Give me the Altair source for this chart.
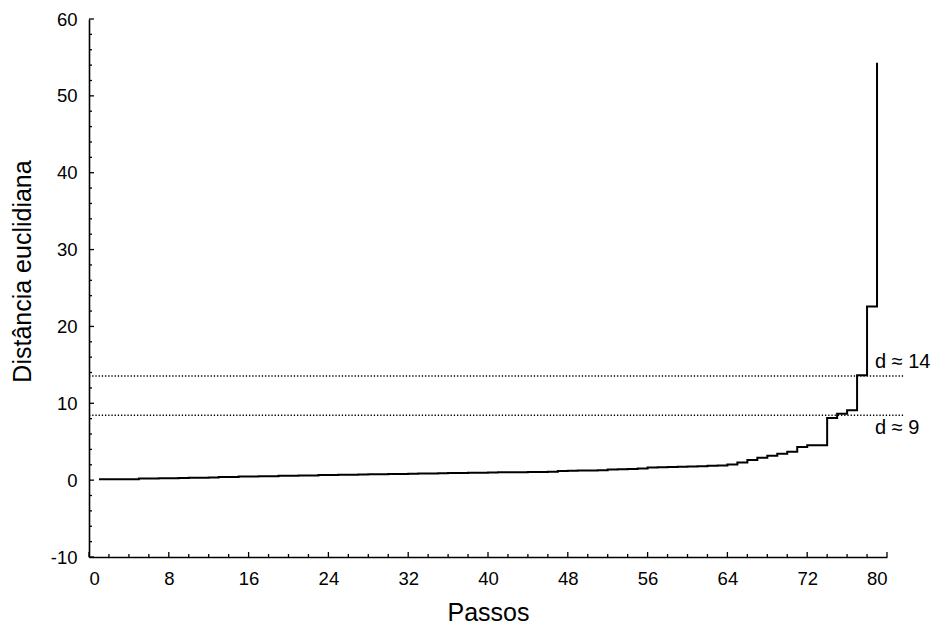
import altair as alt
import pandas as pd

# Fusion steps (Passos) and Euclidean linkage distance at each step
steps = list(range(1, 80))
distances = [
    0.10, 0.10, 0.11, 0.12, 0.20, 0.22, 0.24, 0.26, 0.28, 0.30,
    0.32, 0.34, 0.40, 0.42, 0.46, 0.48, 0.50, 0.52, 0.56, 0.58,
    0.60, 0.62, 0.66, 0.68, 0.69, 0.71, 0.72, 0.76, 0.78, 0.79,
    0.80, 0.84, 0.86, 0.87, 0.91, 0.92, 0.93, 0.95, 0.96, 0.98,
    1.02, 1.03, 1.04, 1.06, 1.07, 1.08, 1.20, 1.22, 1.24, 1.26,
    1.28, 1.39, 1.42, 1.45, 1.52, 1.65, 1.68, 1.71, 1.74, 1.77,
    1.80, 1.87, 1.92, 2.05, 2.30, 2.62, 2.92, 3.18, 3.42, 3.70,
    4.30, 4.55, 4.55, 8.10, 8.65, 9.10, 13.65, 22.60, 54.30,
]

# Cut-off levels (dotted lines) and their labels
cut_levels = [13.55, 8.45]
cut_labels = ["d \u2248 14", "d \u2248 9"]

# Axis ticks
x_major = list(range(0, 81, 8))
x_minor = [v for v in range(0, 81, 2) if v % 8 != 0]
y_major = list(range(-10, 61, 10))
y_minor = [v for v in range(-10, 61, 2) if v % 10 != 0]

W, H = 798, 538
FONT = "Liberation Sans"

curve_df = pd.DataFrame({"Passos": steps, "Dist": distances})
cut_df = pd.DataFrame({"level": cut_levels, "label": cut_labels})

xscale = alt.Scale(domain=[0, 80], nice=False, zero=False)
yscale = alt.Scale(domain=[-10, 60], nice=False, zero=False)

curve = alt.Chart(curve_df).mark_line(
    interpolate="step-after", color="black", strokeWidth=2
).encode(
    x=alt.X("Passos:Q", scale=xscale,
            axis=alt.Axis(values=x_major, title="Passos", labelExpr="'' + datum.value")),
    y=alt.Y("Dist:Q", scale=yscale,
            axis=alt.Axis(values=y_major, title="Distância euclidiana",
                          labelExpr="'' + datum.value", titleY=252)),
)

cuts = alt.Chart(cut_df).mark_rule(
    color="black", strokeWidth=1.4, strokeDash=[1.3, 1.9], clip=False
).encode(
    y=alt.Y("level:Q"),
    x=alt.datum(0),
    x2=alt.datum(81.8),
)

label_hi = alt.Chart(cut_df.iloc[[0]]).mark_text(
    align="left", baseline="alphabetic", dy=-8.5, dx=-2,
    font=FONT, fontSize=20, color="black", clip=False
).encode(
    x=alt.datum(steps[-1]),
    y=alt.Y("level:Q"),
    text="label:N",
)

label_lo = alt.Chart(cut_df.iloc[[1]]).mark_text(
    align="left", baseline="alphabetic", dy=19, dx=-2,
    font=FONT, fontSize=20, color="black", clip=False
).encode(
    x=alt.datum(steps[-1]),
    y=alt.Y("level:Q"),
    text="label:N",
)

def xticks(vals, length):
    return alt.Chart(pd.DataFrame({"t": vals})).mark_rule(
        color="black", strokeWidth=1.3
    ).encode(
        x=alt.X("t:Q"),
        y=alt.value(H),
        y2=alt.value(H - length),
    )

def yticks(vals, length):
    return alt.Chart(pd.DataFrame({"t": vals})).mark_rule(
        color="black", strokeWidth=1.3
    ).encode(
        y=alt.Y("t:Q"),
        x=alt.value(0),
        x2=alt.value(length),
    )

chart = alt.layer(
    curve, cuts, label_hi, label_lo,
    xticks(x_major, 5), xticks(x_minor, 3),
    yticks(y_major, 5), yticks(y_minor, 3),
).properties(
    width=W, height=H,
    padding={"left": 89, "top": 19, "right": 50, "bottom": 74},
    autosize=alt.AutoSizeParams(type="none"),
).configure_view(
    stroke=None
).configure_axis(
    grid=False, ticks=False, domainColor="black", domainWidth=1.6,
    labelFont=FONT, labelFontSize=18.5, labelColor="black",
    titleFont=FONT, titleFontSize=25, titleFontWeight="normal", titleColor="black",
).configure_axisX(
    labelPadding=12, titlePadding=13
).configure_axisY(
    labelPadding=12, titlePadding=15
)

chart.save("out.html", embed_options={"renderer": "svg", "actions": False})
